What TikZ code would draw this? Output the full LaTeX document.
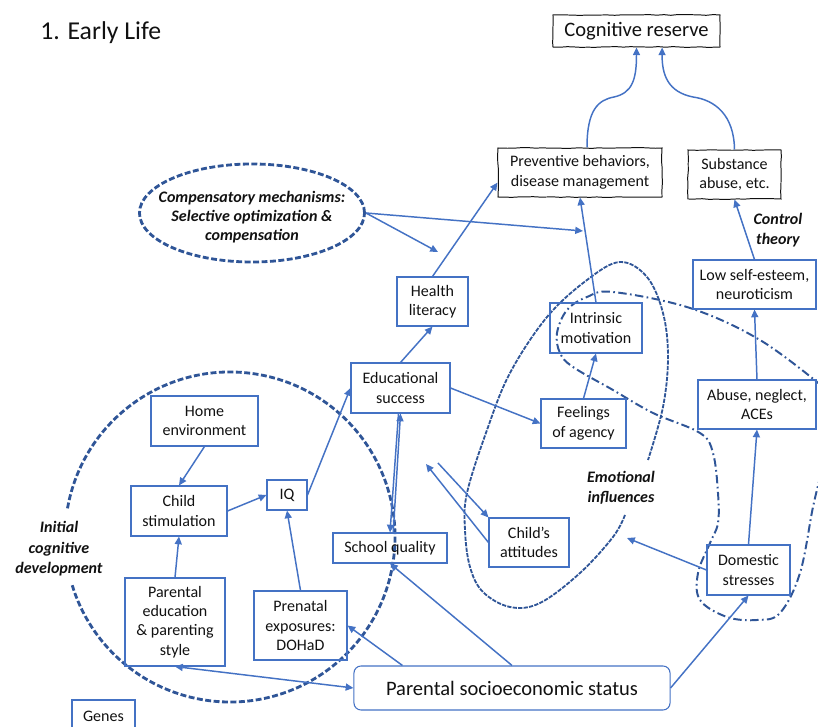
\documentclass[tikz,border=0pt]{standalone}
\usepackage{fontspec}
\setmainfont{Carlito}
\usetikzlibrary{arrows.meta,positioning,calc,shapes.geometric,decorations.pathmorphing}
\definecolor{Ink}{HTML}{111111}
\definecolor{Accent}{HTML}{4472C4}
\definecolor{AccentDark}{HTML}{2F5597}

\tikzset{
  box/.style={draw=Accent,line width=0.75pt,inner sep=0pt,align=center,text=Ink,
    font=\fontsize{11.4}{13.8}\selectfont},
  sketchbox/.style={draw=Ink,line width=0.7pt,inner sep=0pt,align=center,text=Ink,
    decorate,decoration={random steps,segment length=5pt,amplitude=0.3pt},
    font=\fontsize{11.4}{13.8}\selectfont},
  conn/.style={Accent,line width=1.05pt,-{Triangle[length=5.5pt,width=5pt]}},
  twoway/.style={Accent,line width=1.05pt,{Triangle[length=5.5pt,width=5pt]}-{Triangle[length=5.5pt,width=5pt]}},
  theme/.style={text=Ink,align=center,font=\fontsize{11.4}{14.6}\selectfont\bfseries\itshape},
  bigdash/.style={draw=AccentDark,line width=2pt,dash pattern=on 4.2pt off 1.8pt},
  thindash/.style={draw=AccentDark,line width=1.3pt,dash pattern=on 3pt off 0.9pt},
  dashdot/.style={draw=AccentDark,line width=1.4pt,dash pattern=on 6pt off 2.4pt on 1.2pt off 2.4pt},
}

\begin{document}
\begin{tikzpicture}[x=0.025cm,y=-0.025cm]
\useasboundingbox (0,0) rectangle (818,727);

% loops behind the boxes
\draw[bigdash] (230,537) ++(190:165) arc[start angle=190,end angle=523,radius=165];
\draw[thindash] plot[smooth,tension=0.6] coordinates {(625,515) (613,537) (580,573) (540,603)
  (510,607) (483,592) (470,567) (465,530) (467,493) (487,430) (510,373) (547,317) (587,280)
  (620,262) (647,277) (663,313) (668,357) (663,407) (648,460)};
\draw[dashdot] plot[smooth,tension=0.6] coordinates {(822,386) (760,340) (690,308) (613,292)
  (587,297) (567,310) (557,333) (560,353) (573,367) (613,390) (653,413) (700,433) (713,453)
  (718,493) (718,523) (710,543) (698,573) (700,600) (727,617) (757,620) (780,613) (800,573)
  (813,507) (822,470)};

\node[anchor=west,inner sep=0pt,text=Ink,font=\fontsize{18.3}{22}\selectfont] (title) at (40,33) {1. Early Life};

% outcome boxes
\node[sketchbox,minimum width=4.175cm,minimum height=0.8cm,font=\fontsize{14.6}{17}\selectfont] (cogres) at (636.5,31) {Cognitive reserve};
\node[sketchbox,minimum width=4.1cm,minimum height=1.225cm] (prevent) at (580,172.5) {Preventive behaviors,\\disease management};
\node[sketchbox,minimum width=2.325cm,minimum height=1.225cm] (subst) at (734.5,174.5) {Substance\\abuse, etc.};

% pathway boxes
\node[box,minimum width=1.775cm,minimum height=1.225cm] (health) at (432.5,301.5) {Health\\literacy};
\node[box,minimum width=2.3cm,minimum height=1.25cm] (intrin) at (596,328) {Intrinsic\\motivation};
\node[box,minimum width=3.075cm,minimum height=1.225cm] (lowself) at (754.5,284.5) {Low self-esteem,\\neuroticism};
\node[box,minimum width=2.475cm,minimum height=1.25cm] (edu) at (400.5,388) {Educational\\success};
\node[box,minimum width=2.125cm,minimum height=1.225cm] (agency) at (583.5,423.5) {Feelings\\of agency};
\node[box,minimum width=2.95cm,minimum height=1.225cm] (aces) at (757,404.5) {Abuse, neglect,\\ACEs};
\node[box,minimum width=2.675cm,minimum height=1.25cm] (home) at (204.5,421) {Home\\environment};
\node[box,minimum width=2.4cm,minimum height=1.25cm] (childstim) at (179,511) {Child\\stimulation};
\node[box,minimum width=1.0cm,minimum height=0.75cm] (iq) at (287,495) {IQ};
\node[box,minimum width=2.85cm,minimum height=0.75cm] (school) at (390,548) {School quality};
\node[box,minimum width=2.0cm,minimum height=1.225cm] (attitudes) at (529,542.5) {Child’s\\attitudes};
\node[box,minimum width=2.075cm,minimum height=1.25cm] (domestic) at (748.5,570) {Domestic\\stresses};
\node[box,minimum width=2.5cm,minimum height=2.2cm] (pared) at (175,622) {Parental\\education\\\& parenting\\style};
\node[box,minimum width=2.325cm,minimum height=1.725cm] (prenatal) at (300.5,625.5) {Prenatal\\exposures:\\DOHaD};
\node[box,rounded corners=5pt,minimum width=7.9cm,minimum height=1.1cm,font=\fontsize{14.6}{17}\selectfont] (ses) at (512,688) {Parental socioeconomic status};
\node[box,minimum width=1.575cm,minimum height=0.8cm] (genes) at (103.5,716) {Genes};

% themes
\node[ellipse,bigdash,minimum width=5.625cm,minimum height=2.45cm,inner sep=0pt] (comp) at (252,213) {};
\node[theme,font=\fontsize{11.4}{13.5}\selectfont\bfseries\itshape] (comptext) at (252,217) {Compensatory mechanisms:\\Selective optimization \&\\compensation};
\node[theme] (control) at (778,230) {Control\\theory};
\node[theme] (emotion) at (621,488) {Emotional\\influences};
\node[theme] (initial) at (59,549) {Initial\\cognitive\\development};

% free ends
\coordinate (compend) at (438,252);
\coordinate (motivend) at (583,231);
\coordinate (attin) at (438,463);
\coordinate (attout) at (426,464);
\coordinate (stressend) at (627,538);

% connectors
\draw[conn] ([xshift=0.175cm]prevent.north) .. controls (587,110) and (598,100) .. (614,97)
  .. controls (632,93) and (636.5,80) .. (cogres.south);
\draw[conn] (subst.north) .. controls (734,115) and (715,100) .. (693,97)
  .. controls (668,92) and (662,75) .. ([xshift=0.64cm]cogres.south);
\draw[conn] (comp.east) -- (compend);
\draw[conn] (comp.east) -- (motivend);
\draw[conn] (health.north) -- (prevent.187);
\draw[conn] (intrin.north) -- (prevent.south);
\draw[conn] (edu.north) -- (health.south);
\draw[conn] (edu.east) -- (agency.west);
\draw[conn] (agency.north) -- (intrin.south);
\draw[conn] (iq.east) -- (edu.west);
\draw[conn] ([xshift=0.08cm]school.north) -- (edu.south);
\draw[conn] ([xshift=-0.05cm]edu.south) -- (school.north);
\draw[conn] (childstim.east) -- (iq.west);
\draw[conn] (home.south) -- (childstim.north);
\draw[conn] (pared.north) -- (childstim.south);
\draw[conn] (prenatal.north) -- (iq.south);
\draw[twoway] (pared.south) -- (ses.west);
\draw[conn] ([xshift=1.225cm]ses.north west) -- (prenatal.east);
\draw[conn] (ses.north) -- (school.south);
\draw[conn] (ses.east) -- (domestic.south);
\draw[conn] (domestic.west) -- (stressend);
\draw[conn] (domestic.north) -- (aces.south);
\draw[conn] (aces.north) -- (lowself.south);
\draw[conn] (lowself.north) -- (subst.south);
\draw[conn] (attin) -- (attitudes.north west);
\draw[conn] (attitudes.west) -- (attout);
\end{tikzpicture}
\end{document}
